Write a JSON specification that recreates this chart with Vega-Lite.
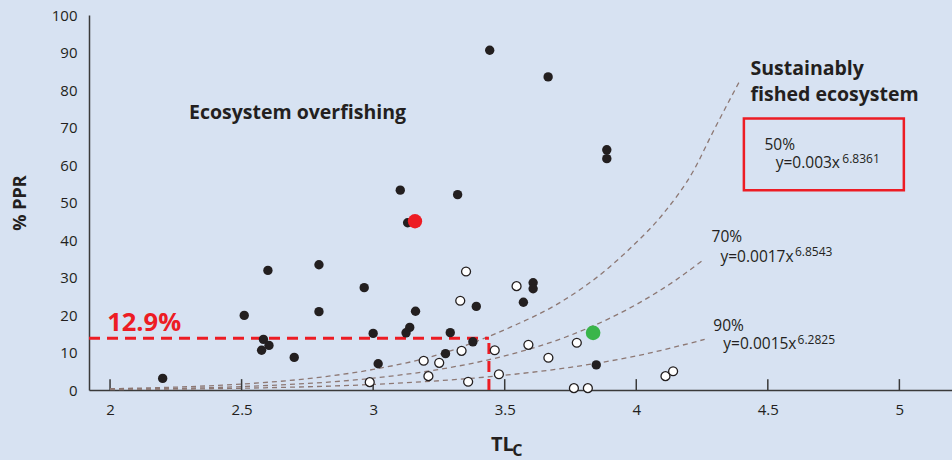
{
  "$schema": "https://vega.github.io/schema/vega-lite/v6.json",
  "width": 863,
  "height": 375,
  "autosize": {"type": "none"},
  "padding": {"left": 89, "top": 15, "right": 0, "bottom": 70},
  "background": "#d7e2f2",
  "config": {
    "view": {"stroke": null},
    "font": "Open Sans",
    "axis": {"grid": false, "labelFont": "Open Sans", "titleFont": "Open Sans", "labelColor": "#231f20", "titleColor": "#231f20", "domainColor": "#3a3a3a", "domainWidth": 1.5, "labelOverlap": false}
  },
  "datasets": {
    "points": [
      {"type": "filled", "tl": 2.20, "ppr": 3.1},
      {"type": "filled", "tl": 2.51, "ppr": 19.9},
      {"type": "filled", "tl": 2.60, "ppr": 31.9},
      {"type": "filled", "tl": 2.583, "ppr": 13.5},
      {"type": "filled", "tl": 2.604, "ppr": 11.9},
      {"type": "filled", "tl": 2.576, "ppr": 10.6},
      {"type": "filled", "tl": 2.70, "ppr": 8.7},
      {"type": "filled", "tl": 2.794, "ppr": 33.4},
      {"type": "filled", "tl": 2.794, "ppr": 20.9},
      {"type": "filled", "tl": 2.966, "ppr": 27.3},
      {"type": "filled", "tl": 3.0, "ppr": 15.1},
      {"type": "filled", "tl": 3.019, "ppr": 7.0},
      {"type": "filled", "tl": 3.103, "ppr": 53.3},
      {"type": "filled", "tl": 3.321, "ppr": 52.1},
      {"type": "filled", "tl": 3.131, "ppr": 44.6},
      {"type": "filled", "tl": 3.161, "ppr": 21.0},
      {"type": "filled", "tl": 3.139, "ppr": 16.7},
      {"type": "filled", "tl": 3.125, "ppr": 15.25},
      {"type": "filled", "tl": 3.293, "ppr": 15.3},
      {"type": "filled", "tl": 3.392, "ppr": 22.3},
      {"type": "filled", "tl": 3.379, "ppr": 12.85},
      {"type": "filled", "tl": 3.275, "ppr": 9.7},
      {"type": "filled", "tl": 3.443, "ppr": 90.6},
      {"type": "filled", "tl": 3.665, "ppr": 83.5},
      {"type": "filled", "tl": 3.888, "ppr": 64.05},
      {"type": "filled", "tl": 3.888, "ppr": 61.7},
      {"type": "filled", "tl": 3.608, "ppr": 28.6},
      {"type": "filled", "tl": 3.608, "ppr": 27.0},
      {"type": "filled", "tl": 3.571, "ppr": 23.4},
      {"type": "filled", "tl": 3.848, "ppr": 6.7},
      {"type": "open", "tl": 3.353, "ppr": 31.6},
      {"type": "open", "tl": 3.331, "ppr": 23.8},
      {"type": "open", "tl": 3.545, "ppr": 27.7},
      {"type": "open", "tl": 3.59, "ppr": 12.05},
      {"type": "open", "tl": 3.774, "ppr": 12.6},
      {"type": "open", "tl": 3.666, "ppr": 8.6},
      {"type": "open", "tl": 3.462, "ppr": 10.6},
      {"type": "open", "tl": 3.336, "ppr": 10.45},
      {"type": "open", "tl": 3.192, "ppr": 7.8},
      {"type": "open", "tl": 3.251, "ppr": 7.25},
      {"type": "open", "tl": 3.21, "ppr": 3.7},
      {"type": "open", "tl": 3.478, "ppr": 4.2},
      {"type": "open", "tl": 2.987, "ppr": 2.1},
      {"type": "open", "tl": 3.361, "ppr": 2.2},
      {"type": "open", "tl": 3.763, "ppr": 0.5},
      {"type": "open", "tl": 3.816, "ppr": 0.5},
      {"type": "open", "tl": 4.111, "ppr": 3.7},
      {"type": "open", "tl": 4.14, "ppr": 5.0},
      {"type": "red", "tl": 3.159, "ppr": 45.0},
      {"type": "green", "tl": 3.836, "ppr": 15.25}
    ],
    "curves": [
      {"curve": "50%", "tl": 2.0, "ppr": 0.34},
      {"curve": "50%", "tl": 2.25, "ppr": 0.77},
      {"curve": "50%", "tl": 2.5, "ppr": 1.58},
      {"curve": "50%", "tl": 2.75, "ppr": 3.02},
      {"curve": "50%", "tl": 3.0, "ppr": 5.48},
      {"curve": "50%", "tl": 3.25, "ppr": 9.47},
      {"curve": "50%", "tl": 3.43, "ppr": 14.0},
      {"curve": "50%", "tl": 3.53, "ppr": 17.0},
      {"curve": "50%", "tl": 3.70, "ppr": 22.9},
      {"curve": "50%", "tl": 3.89, "ppr": 32.3},
      {"curve": "50%", "tl": 3.98, "ppr": 38.0},
      {"curve": "50%", "tl": 4.10, "ppr": 46.8},
      {"curve": "50%", "tl": 4.22, "ppr": 58.8},
      {"curve": "50%", "tl": 4.29, "ppr": 68.6},
      {"curve": "50%", "tl": 4.39, "ppr": 82.0},
      {"curve": "70%", "tl": 2.0, "ppr": 0.20},
      {"curve": "70%", "tl": 2.5, "ppr": 0.91},
      {"curve": "70%", "tl": 3.0, "ppr": 3.17},
      {"curve": "70%", "tl": 3.25, "ppr": 5.48},
      {"curve": "70%", "tl": 3.5, "ppr": 9.1},
      {"curve": "70%", "tl": 3.75, "ppr": 14.6},
      {"curve": "70%", "tl": 4.0, "ppr": 22.8},
      {"curve": "70%", "tl": 4.15, "ppr": 29.3},
      {"curve": "70%", "tl": 4.26, "ppr": 35.0},
      {"curve": "90%", "tl": 2.0, "ppr": 0.12},
      {"curve": "90%", "tl": 2.5, "ppr": 0.47},
      {"curve": "90%", "tl": 3.0, "ppr": 1.49},
      {"curve": "90%", "tl": 3.25, "ppr": 2.47},
      {"curve": "90%", "tl": 3.5, "ppr": 3.93},
      {"curve": "90%", "tl": 3.75, "ppr": 6.06},
      {"curve": "90%", "tl": 4.0, "ppr": 9.08},
      {"curve": "90%", "tl": 4.26, "ppr": 13.5}
    ],
    "refLines": [
      {"tl": 1.92, "tl2": 3.44, "ppr": 13.8, "ppr2": 13.8},
      {"tl": 3.44, "tl2": 3.44, "ppr": 0, "ppr2": 13.8}
    ],
    "box": [{"tl": 4.409, "tl2": 5.017, "ppr": 53.3, "ppr2": 72.4}],
    "ticks": [
      {"tl": 2, "ppr": 0, "ppr2": 2.9},
      {"tl": 2.5, "ppr": 0, "ppr2": 2.9},
      {"tl": 3, "ppr": 0, "ppr2": 2.9},
      {"tl": 3.5, "ppr": 0, "ppr2": 2.9},
      {"tl": 4, "ppr": 0, "ppr2": 2.9},
      {"tl": 4.5, "ppr": 0, "ppr2": 2.9},
      {"tl": 5, "ppr": 0, "ppr2": 2.9}
    ],
    "headings": [
      {"label": "Ecosystem overfishing", "tl": 2.30, "ppr": 74.0},
      {"label": "Sustainably", "tl": 4.434, "ppr": 85.5},
      {"label": "fished ecosystem", "tl": 4.434, "ppr": 78.8}
    ],
    "eqText": [
      {"label": "50%", "tl": 4.487, "ppr": 63.9},
      {"label": "y=0.003x", "tl": 4.530, "ppr": 59.25},
      {"label": "70%", "tl": 4.286, "ppr": 39.4},
      {"label": "y=0.0017x", "tl": 4.320, "ppr": 34.1},
      {"label": "90%", "tl": 4.293, "ppr": 15.7},
      {"label": "y=0.0015x", "tl": 4.331, "ppr": 11.0}
    ],
    "supText": [
      {"label": "6.8361", "tl": 4.783, "ppr": 60.6},
      {"label": "6.8543", "tl": 4.603, "ppr": 35.7},
      {"label": "6.2825", "tl": 4.613, "ppr": 12.4}
    ],
    "redLabel": [{"label": "12.9%", "tl": 1.989, "ppr": 15.7}],
    "xTitle": [{"label": "TL", "tl": 3.4476, "ppr": -16.3}],
    "xSub": [{"label": "C", "tl": 3.529, "ppr": -17.7}]
  },
  "layer": [
    {
      "data": {"name": "ticks"},
      "mark": {"type": "rule", "color": "#3a3a3a", "strokeWidth": 1.5},
      "encoding": {
        "x": {"field": "tl", "type": "quantitative", "scale": {"domain": [1.92, 5.2], "nice": false, "zero": false},
          "axis": {"values": [2, 2.5, 3, 3.5, 4, 4.5, 5], "tickCount": 20, "format": "~g", "ticks": false, "labelFontSize": 15, "labelPadding": 12, "labelOverlap": false, "title": null}},
        "y": {"field": "ppr", "type": "quantitative", "scale": {"domain": [0, 100], "nice": false, "zero": false},
          "axis": {"values": [0, 10, 20, 30, 40, 50, 60, 70, 80, 90, 100], "tickCount": 20, "format": "d", "ticks": false, "labelFontSize": 15, "labelPadding": 12, "labelOverlap": false, "labelBound": false, "title": "% PPR", "titleFontSize": 18, "titleFontWeight": "bold", "titlePadding": 22}},
        "y2": {"field": "ppr2"}
      }
    },
    {
      "data": {"name": "curves"},
      "mark": {"type": "line", "color": "#8d7874", "strokeWidth": 1.3, "strokeDash": [5, 4], "interpolate": "monotone"},
      "encoding": {
        "x": {"field": "tl", "type": "quantitative"},
        "y": {"field": "ppr", "type": "quantitative"},
        "detail": {"field": "curve"}
      }
    },
    {
      "data": {"name": "refLines"},
      "mark": {"type": "rule", "color": "#ed1c24", "strokeWidth": 3, "strokeDash": [11, 7]},
      "encoding": {
        "x": {"field": "tl", "type": "quantitative"},
        "x2": {"field": "tl2"},
        "y": {"field": "ppr", "type": "quantitative"},
        "y2": {"field": "ppr2"}
      }
    },
    {
      "data": {"name": "box"},
      "mark": {"type": "rect", "fill": null, "fillOpacity": 0, "stroke": "#ed1c24", "strokeWidth": 2.5},
      "encoding": {
        "x": {"field": "tl", "type": "quantitative"},
        "x2": {"field": "tl2"},
        "y": {"field": "ppr", "type": "quantitative"},
        "y2": {"field": "ppr2"}
      }
    },
    {
      "data": {"name": "points"},
      "transform": [{"filter": "datum.type === 'filled'"}],
      "mark": {"type": "circle", "fill": "#231f20", "size": 88, "opacity": 1},
      "encoding": {
        "x": {"field": "tl", "type": "quantitative"},
        "y": {"field": "ppr", "type": "quantitative"}
      }
    },
    {
      "data": {"name": "points"},
      "transform": [{"filter": "datum.type === 'open'"}],
      "mark": {"type": "point", "shape": "circle", "fill": "#ffffff", "fillOpacity": 1, "stroke": "#231f20", "strokeWidth": 1.3, "size": 80, "opacity": 1},
      "encoding": {
        "x": {"field": "tl", "type": "quantitative"},
        "y": {"field": "ppr", "type": "quantitative"}
      }
    },
    {
      "data": {"name": "points"},
      "transform": [{"filter": "datum.type === 'red'"}],
      "mark": {"type": "circle", "fill": "#ed1c24", "size": 205, "opacity": 1},
      "encoding": {
        "x": {"field": "tl", "type": "quantitative"},
        "y": {"field": "ppr", "type": "quantitative"}
      }
    },
    {
      "data": {"name": "points"},
      "transform": [{"filter": "datum.type === 'green'"}],
      "mark": {"type": "circle", "fill": "#39b54a", "size": 215, "opacity": 1},
      "encoding": {
        "x": {"field": "tl", "type": "quantitative"},
        "y": {"field": "ppr", "type": "quantitative"}
      }
    },
    {
      "data": {"name": "headings"},
      "mark": {"type": "text", "align": "left", "baseline": "middle", "fontSize": 19.5, "fontWeight": "bold", "color": "#231f20"},
      "encoding": {
        "x": {"field": "tl", "type": "quantitative"},
        "y": {"field": "ppr", "type": "quantitative"},
        "text": {"field": "label"}
      }
    },
    {
      "data": {"name": "eqText"},
      "mark": {"type": "text", "align": "left", "baseline": "alphabetic", "fontSize": 15.5, "color": "#231f20"},
      "encoding": {
        "x": {"field": "tl", "type": "quantitative"},
        "y": {"field": "ppr", "type": "quantitative"},
        "text": {"field": "label"}
      }
    },
    {
      "data": {"name": "supText"},
      "mark": {"type": "text", "align": "left", "baseline": "alphabetic", "fontSize": 12, "color": "#231f20"},
      "encoding": {
        "x": {"field": "tl", "type": "quantitative"},
        "y": {"field": "ppr", "type": "quantitative"},
        "text": {"field": "label"}
      }
    },
    {
      "data": {"name": "redLabel"},
      "mark": {"type": "text", "align": "left", "baseline": "alphabetic", "fontSize": 25.5, "fontWeight": "bold", "color": "#ed1c24"},
      "encoding": {
        "x": {"field": "tl", "type": "quantitative"},
        "y": {"field": "ppr", "type": "quantitative"},
        "text": {"field": "label"}
      }
    },
    {
      "data": {"name": "xTitle"},
      "mark": {"type": "text", "align": "left", "baseline": "alphabetic", "fontSize": 20, "fontWeight": "bold", "color": "#231f20"},
      "encoding": {
        "x": {"field": "tl", "type": "quantitative"},
        "y": {"field": "ppr", "type": "quantitative"},
        "text": {"field": "label"}
      }
    },
    {
      "data": {"name": "xSub"},
      "mark": {"type": "text", "align": "left", "baseline": "alphabetic", "fontSize": 16, "fontWeight": "bold", "color": "#231f20"},
      "encoding": {
        "x": {"field": "tl", "type": "quantitative"},
        "y": {"field": "ppr", "type": "quantitative"},
        "text": {"field": "label"}
      }
    }
  ]
}
